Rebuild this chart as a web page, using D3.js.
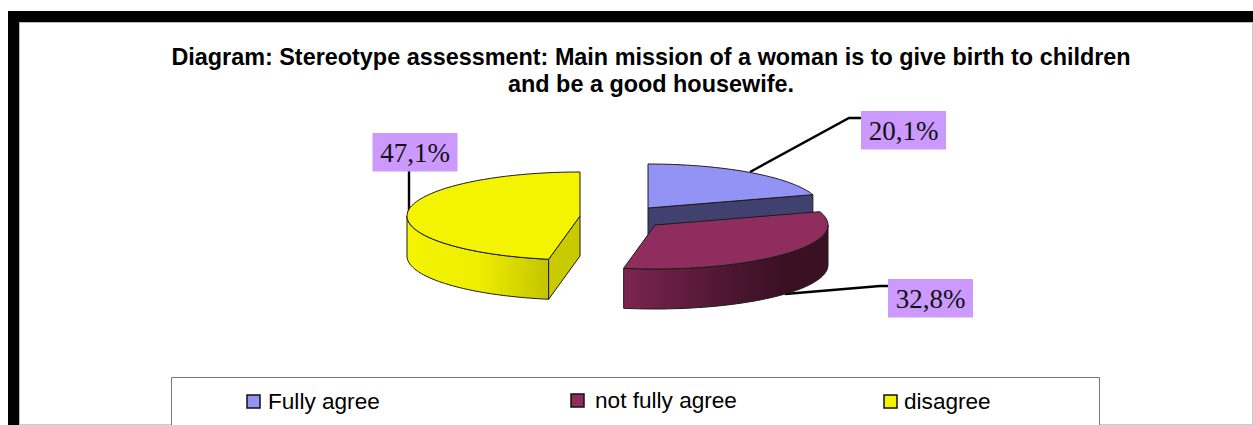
<!DOCTYPE html>
<html>
<head>
<meta charset="utf-8">
<script src="https://cdn.jsdelivr.net/npm/d3@7"></script>
<style>
  html, body { margin: 0; padding: 0; background: #fff; overflow: hidden; }
  svg { display: block; }
</style>
</head>
<body>
<svg id="chart"></svg>
<script>
const titleLines = ["Diagram: Stereotype assessment: Main mission of a woman is to give birth to children", "and be a good housewife."];
const categories = ["Fully agree", "not fully agree", "disagree"];
const values = [20.1, 32.8, 47.1];
const labels = ["20,1%", "32,8%", "47,1%"];

const width = 1253, height = 425;
const rx = 173, ry = 44, depth = 40;

const topColor = ["#9393f6", "#8e2d5e", "#f4f400"];
// exploded slice centres, and where each label goes
const apex = [[648, 208], [655, 225], [580, 216]];
const labelBox = [[861, 111], [888, 279], [372.5, 133]];
const leaders = [
  [[750, 172], [849, 118], [862, 118]],
  [[785, 294], [880, 286], [889, 286]],
  [[409, 212], [409, 170]]
];
const legendX = [247, 571, 884];

const svg = d3.select("#chart").attr("width", width).attr("height", height)
    .attr("viewBox", [0, 0, width, height]);

// black frame: only top and left survive the crop, thin grey lines elsewhere
svg.append("rect").attr("x", 8).attr("y", 11).attr("width", 1245).attr("height", 11).attr("fill", "#000");
svg.append("rect").attr("x", 8).attr("y", 11).attr("width", 11).attr("height", height).attr("fill", "#000");
svg.append("line").attr("x1", 19).attr("x2", width).attr("y1", 22.5).attr("y2", 22.5).attr("stroke", "#bbb");
svg.append("line").attr("x1", 19.5).attr("x2", 19.5).attr("y1", 22).attr("y2", height).attr("stroke", "#bbb");
svg.append("line").attr("x1", 1252.5).attr("x2", 1252.5).attr("y1", 22).attr("y2", height).attr("stroke", "#ccc");
svg.append("line").attr("x1", 19).attr("x2", width).attr("y1", 424.5).attr("y2", 424.5).attr("stroke", "#ccc");

svg.selectAll("text.title")
  .data(titleLines)
  .join("text")
    .attr("class", "title")
    .attr("x", 651)
    .attr("y", (d, i) => 65 + i * 27)
    .attr("text-anchor", "middle")
    .attr("font-family", "Liberation Sans")
    .attr("font-weight", "bold")
    .attr("font-size", 23.4)
    .attr("fill", "#000")
    .text(d => d);

const defs = svg.append("defs");
function gradient(id, x1, x2, stops) {
  const g = defs.append("linearGradient").attr("id", id)
      .attr("gradientUnits", "userSpaceOnUse")
      .attr("x1", x1).attr("x2", x2).attr("y1", 0).attr("y2", 0);
  stops.forEach(s => g.append("stop").attr("offset", s[0]).attr("stop-color", s[1]));
}
gradient("wallRed", 624, 828, [[0, "#7b2550"], [0.55, "#4a1530"], [0.8, "#3a1023"], [1, "#3a1023"]]);
gradient("wallYellow", 408, 549, [[0, "#f4f400"], [0.5, "#eeee00"], [1, "#c4c400"]]);

const pie = d3.pie().sort(null).value(d => d);
const slices = pie(values);
const line = d3.line();

// angle measured clockwise from the top of the ellipse
function project(c, a, dz = 0) {
  return [c[0] + rx * Math.sin(a), c[1] - ry * Math.cos(a) + dz];
}
function arcPoints(c, a0, a1, dz = 0) {
  const n = 60;
  return d3.range(n + 1).map(i => project(c, a0 + (a1 - a0) * i / n, dz));
}

const strokes = "#1c1c1c";
const g = svg.append("g");

// leaders sit behind the pieces
g.selectAll("path.leader")
  .data(leaders)
  .join("path")
    .attr("class", "leader")
    .attr("d", d => line(d))
    .attr("fill", "none")
    .attr("stroke", "#000")
    .attr("stroke-width", 2.4);

function drawSlice(i) {
  const s = slices[i], c = apex[i];
  const a0 = s.startAngle, a1 = s.endAngle;
  const top = arcPoints(c, a0, a1);
  const sg = g.append("g");

  // outer wall, only the part facing the viewer
  const w0 = Math.max(a0, Math.PI / 2), w1 = Math.min(a1, 3 * Math.PI / 2);
  if (w1 > w0) {
    const upper = arcPoints(c, w0, w1);
    const lower = arcPoints(c, w1, w0, depth);
    sg.append("path")
        .attr("d", line(upper.concat(lower)) + "Z")
        .attr("fill", i === 1 ? "url(#wallRed)" : "url(#wallYellow)")
        .attr("stroke", strokes).attr("stroke-width", 1);
  }

  // cut face, seen on the blue and yellow slices
  if (i !== 1) {
    const end = i === 0 ? project(c, a1) : project(c, a0);
    const face = [c, end, [end[0], end[1] + depth], [c[0], c[1] + depth]];
    sg.append("path")
        .attr("d", line(face) + "Z")
        .attr("fill", i === 0 ? "#41416f" : "#caca00")
        .attr("stroke", strokes).attr("stroke-width", 1);
  }

  sg.append("path")
      .attr("d", line([c].concat(top)) + "Z")
      .attr("fill", topColor[i])
      .attr("stroke", strokes).attr("stroke-width", 1);
}
[2, 0, 1].forEach(drawSlice);

const lab = svg.selectAll("g.label")
  .data(labels)
  .join("g")
    .attr("class", "label")
    .attr("transform", (d, i) => `translate(${labelBox[i]})`);
lab.append("rect").attr("width", 85).attr("height", 38.5).attr("fill", "#cc99ff");
lab.append("text")
    .attr("x", 42.5).attr("y", 29)
    .attr("text-anchor", "middle")
    .attr("font-family", "Liberation Serif")
    .attr("font-size", 27)
    .attr("fill", "#111")
    .text(d => d);

// legend box runs off the bottom of the picture
svg.append("path").attr("d", "M171.5,425V377.5H1099.5V425")
    .attr("fill", "#fff").attr("stroke", "#777").attr("stroke-width", 1);

const leg = svg.selectAll("g.legend")
  .data(categories)
  .join("g")
    .attr("class", "legend")
    .attr("transform", (d, i) => `translate(${legendX[i]},${i === 1 ? 394 : 395})`);
leg.append("rect").attr("width", 13).attr("height", 13)
    .attr("fill", (d, i) => topColor[i]).attr("stroke", "#111").attr("stroke-width", 1.5);
leg.append("text")
    .attr("x", (d, i) => i === 2 ? 20 : i === 1 ? 24 : 21)
    .attr("y", 13.5)
    .attr("font-family", "Liberation Sans")
    .attr("font-size", 22.6)
    .attr("fill", "#000")
    .text(d => d);
</script>
</body>
</html>
